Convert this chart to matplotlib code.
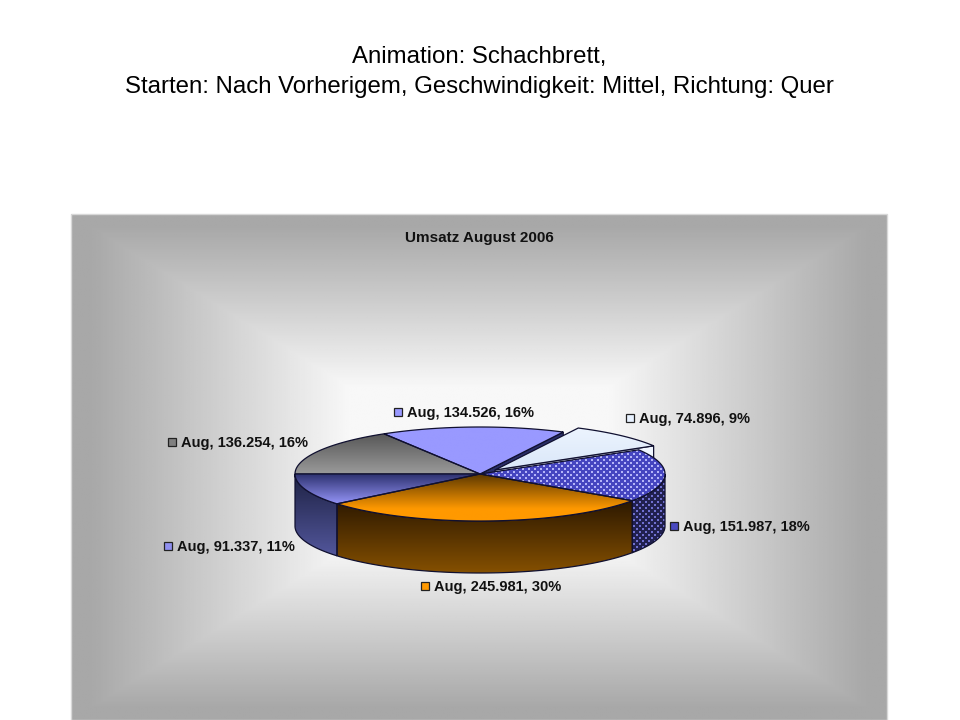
import matplotlib
matplotlib.use('Agg')
import matplotlib.pyplot as plt
from matplotlib.colors import to_rgb
from matplotlib.patches import Polygon, Rectangle
import numpy as np

plt.rcParams['font.family'] = ['Liberation Sans', 'DejaVu Sans']

# clockwise from the left edge of the pie
values = [136.254, 134.526, 74.896, 151.987, 245.981, 91.337]
percents = [16, 16, 9, 18, 30, 11]
label_pos = [(181, 443), (407, 413), (639, 419), (683, 527), (434, 587), (177, 547)]
key_colors = ['#808080', '#9999ff', '#e8f2ff', '#4a4ac0', '#ff9900', '#9090f0']

cx, cy = 480, 474
rx, ry = 185, 47
depth = 52
explode = (15, -4)


def ell(a1, a2, dx=0, dy=0, down=0):
    t = np.radians(np.linspace(a1, a2, 80))
    return np.column_stack([cx + dx + rx * np.cos(t), cy + dy + down - ry * np.sin(t)])


def grad_fill(ax, pts, c0, c1, y0, y1, z, lw=0.9):
    # vertical gradient clipped to the polygon
    n = 128
    x0, x1 = pts[:, 0].min(), pts[:, 0].max()
    y_lo, y_hi = pts[:, 1].min(), pts[:, 1].max()
    frac = np.clip((np.linspace(y_lo, y_hi, n) - y0) / (y1 - y0), 0, 1)[:, None, None]
    img = (1 - frac) * np.array(to_rgb(c0))[None, None, :] + frac * np.array(to_rgb(c1))[None, None, :]
    im = ax.imshow(img, extent=(x0, x1, y_hi, y_lo), aspect='auto', zorder=z)
    p = Polygon(pts, closed=True, fc='none', ec='#101030', lw=lw, zorder=z + 0.1)
    ax.add_patch(p)
    im.set_clip_path(p)


def dot_fill(ax, pts, fg, bg, z):
    h, w = 720, 960
    yy, xx = np.mgrid[0:h, 0:w]
    mask = (xx % 6 < 2) & (yy % 6 < 2) | ((xx + 3) % 6 < 2) & ((yy + 3) % 6 < 2)
    img = np.where(mask[:, :, None], np.array(to_rgb(fg)), np.array(to_rgb(bg)))
    im = ax.imshow(img, extent=(0, w, h, 0), aspect='auto', zorder=z, interpolation='nearest')
    p = Polygon(pts, closed=True, fc='none', ec='#101030', lw=0.9, zorder=z + 0.1)
    ax.add_patch(p)
    im.set_clip_path(p)


fig = plt.figure(figsize=(9.6, 7.2), dpi=100, facecolor='white')
ax = fig.add_axes([0, 0, 1, 1])

# panel background, box shaped gradient
bx0, bx1, by0, by1 = 71, 887, 214, 720
yy, xx = np.mgrid[0:1:300j, 0:1:400j]
box = np.maximum(np.abs(xx - 0.5), np.abs(yy - 0.5)) * 2
shade = np.clip(1.126 - 0.49 * box, 0.66, 0.97)
ax.imshow(shade, cmap='gray', vmin=0, vmax=1, extent=(bx0, bx1, by1, by0),
          aspect='auto', zorder=1)
ax.add_patch(Rectangle((bx0, by0), bx1 - bx0, by1 - by0, fc='none', ec='#d8d8d8', lw=1, zorder=1.5))

# slice angles come from the values
total = sum(values)
edges = 180 - np.cumsum([0] + values) / total * 360
a_gray, a_pur, a_light, a_dot, a_or, a_blue = [(edges[i], edges[i + 1]) for i in range(6)]


def cut_face(a, dx=0, dy=0):
    t = np.radians(a)
    o = np.array([cx + dx + rx * np.cos(t), cy + dy - ry * np.sin(t)])
    c = np.array([cx + dx, cy + dy])
    return np.array([c, o, o + [0, depth], c + [0, depth]])


def sector(a, dx=0, dy=0):
    return np.vstack([[[cx + dx, cy + dy]], ell(a[0], a[1], dx, dy)])


def wall(a1, a2):
    return np.vstack([ell(a1, a2), ell(a2, a1, down=depth)])


# back pieces first
grad_fill(ax, cut_face(a_pur[1]), '#2a2e68', '#2a2e68', cy - 50, cy + 60, 3)
dx, dy = explode
ax.add_patch(Polygon(cut_face(a_light[1], dx, dy), closed=True, fc='#f0f6ff', ec='#101030', lw=0.9, zorder=3.5))
grad_fill(ax, sector(a_light, dx, dy), '#eef5ff', '#d8e6f8', cy - 50, cy, 4)

grad_fill(ax, sector(a_pur), '#9999ff', '#9999ff', cy - 50, cy, 5)
grad_fill(ax, sector(a_gray), '#4e4e4e', '#9a9a9a', cy - 45, cy, 5)

# side walls
grad_fill(ax, wall(a_blue[1], a_blue[0]), '#1e2244', '#5a5ea8', cy, cy + ry + depth - 5, 6)
grad_fill(ax, wall(a_or[1], a_or[0]), '#2a1700', '#855000', cy + 25, cy + ry + depth, 6)
dot_fill(ax, wall(0, a_dot[1]), '#7070d0', '#20204e', 6)

# remaining top faces
grad_fill(ax, sector(a_blue), '#2e3270', '#9595f8', cy, cy + 30, 7)
grad_fill(ax, sector(a_or), '#5c3800', '#ff9900', cy, cy + 35, 7)
dot_fill(ax, sector(a_dot), '#b4b4f8', '#4545c0', 7)

# texts
ax.text(479, 57.5, 'Animation: Schachbrett,', ha='center', va='center', fontsize=17.3, color='black', zorder=10)
ax.text(479, 87.5, 'Starten: Nach Vorherigem, Geschwindigkeit: Mittel, Richtung: Quer',
        ha='center', va='center', fontsize=17.3, color='black', zorder=10)
ax.text(479, 238, 'Umsatz August 2006', ha='center', va='center', fontsize=11,
        fontweight='bold', color='#111111', zorder=10)

for v, p, (x, y), c in zip(values, percents, label_pos, key_colors):
    ax.text(x, y, f'Aug, {v:.3f}, {p}%', ha='left', va='center', fontsize=10.5,
            fontweight='bold', color='#111111', zorder=10)
    ax.add_patch(Rectangle((x - 13, y - 5), 8, 8, fc=c, ec='#222222', lw=0.9, zorder=10))

ax.set_xlim(0, 960)
ax.set_ylim(720, 0)
ax.axis('off')
fig.savefig('out.png', dpi=100)
